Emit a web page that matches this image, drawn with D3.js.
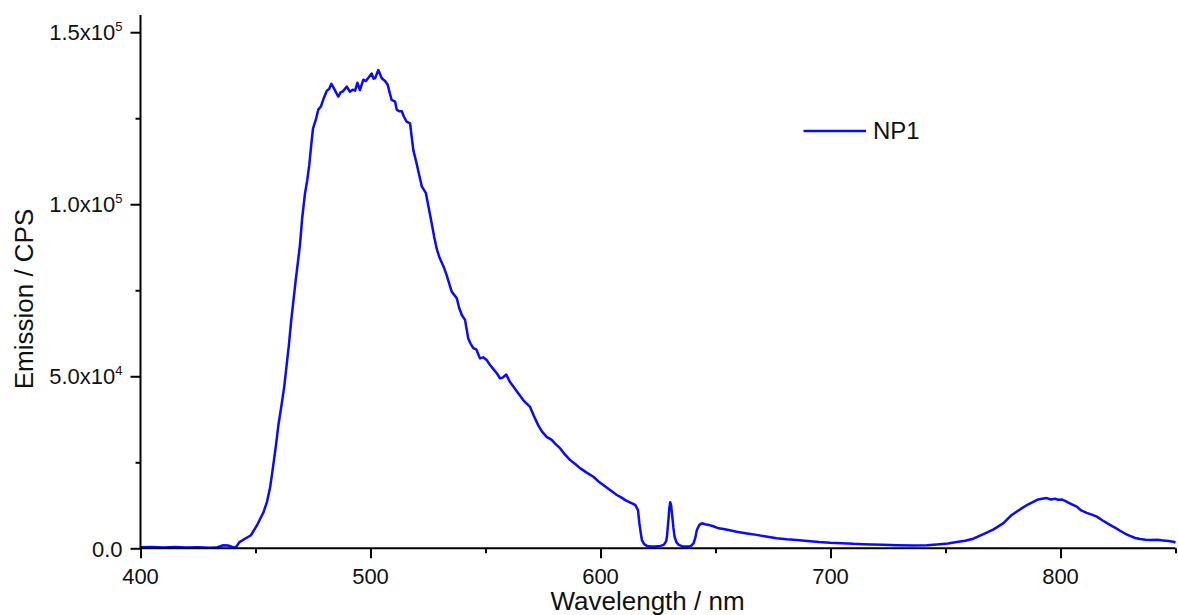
<!DOCTYPE html>
<html>
<head>
<meta charset="utf-8">
<script src="https://cdn.jsdelivr.net/npm/d3@7"></script>
<style>
  html, body { margin: 0; padding: 0; background: #fff; }
  svg { display: block; font-family: "Liberation Sans", Arial, sans-serif; }
</style>
</head>
<body>
<svg id="chart" width="1178" height="615"></svg>
<script>
// ---- Data ----
const seriesName = "NP1";
const wavelength = [
  400,405,410,415,420,425,430,433,436,438,440,441.5,443,446,448,450.5,452,453.5,455,456.3,
  457.5,458.8,460,461.4,462.5,463.5,464.5,465.5,466.5,467.5,468.5,469.3,470.3,471.5,472.5,473.4,474.2,475,476.2,477.3,
  478.5,479.5,481,482,483,484,485,486,487,488,489.7,491,492.3,493.3,494.3,495.4,496.9,498,499,500.5,
  501.3,502,503.4,504.9,506.3,507.5,508.3,509.2,510.7,511.4,512.5,513.6,514.5,515.7,517.2,518.6,520,521,522.3,524.1,
  525.3,526.6,527.7,528.8,530,531.7,533.1,534.2,535.3,537.5,538.5,539.7,541.1,542.5,543.5,544.7,546,547.6,549,550.5,
  552,553.5,555,556.3,557.5,559,560.5,562.1,564,566.4,568,569.3,571,572.9,574.5,576.6,578.8,580.5,582.4,584.5,
  586.7,589,591.1,594,596.9,599,601.2,604,607.1,609,610.8,613,615.1,616.3,616.9,617.5,618,619,620.2,622,
  623.8,626,627.5,628.5,628.9,629.5,629.9,630.3,630.7,631.1,631.7,632.2,633,634,636,638.3,639.5,640.5,641.2,641.9,
  643,644.1,645.5,647,649,651.4,653.5,655.7,659.2,663,667.9,672,676.6,681,685.3,690,695,699.8,705,710,
  714.2,718,722.9,729,736,742,747.6,751,754.9,758.5,762.1,766.5,770.9,775.2,778.8,782.4,786,790.3,792,794,
  795.8,797.6,799,800.5,802,803.4,805.2,807.1,809,811.4,813.6,815.8,818.5,821.5,823.7,825.9,828,830.2,832.5,834.6,
  837,839,842,844.7,847,849.1,850
];
const emission = [
  300,400,250,350,200,300,150,200,900,800,400,300,1800,3000,3800,6500,8500,10500,13500,17500,
  23000,29500,36000,42000,47000,53000,59000,66000,72000,78000,83500,88000,96000,103000,107000,111500,117000,122000,124500,127500,
  128500,130500,133000,133500,135000,133800,132500,131300,132500,132800,134200,132700,133300,133000,135300,133200,136200,135800,136700,138000,
  136500,136600,139000,136600,135800,134700,132500,130300,129800,127500,127000,127000,125500,124000,123500,115800,112000,109000,105200,103200,
  99000,94500,90500,87000,84500,82000,79400,77000,74600,72700,70000,67800,66400,61000,59500,58200,57800,55200,55500,54700,
  53300,52000,50800,49400,49600,50500,48500,47000,45300,43100,42000,41200,38500,35800,34000,32400,31500,30300,29100,27300,
  25700,24500,23300,22000,20800,19500,18400,17000,15500,14800,14000,13300,12600,11100,7300,4500,2400,1200,700,500,
  500,700,1000,2000,3400,8000,11500,13400,12500,10000,6000,3400,1800,1000,500,500,800,1500,3000,5300,
  6800,7300,7000,6800,6400,5800,5600,5300,4800,4400,3900,3400,2900,2600,2400,2100,1800,1600,1500,1300,
  1200,1100,1000,900,800,900,1200,1400,1800,2200,2800,4100,5500,7300,9700,11300,12800,14200,14400,14600,
  14200,14400,14100,14200,13800,13300,12700,12100,11000,10300,9800,9200,8000,6800,6000,5100,4300,3600,3000,2700,
  2500,2400,2500,2300,2100,1900,1700
];
const xMajorTicks = [400, 500, 600, 700, 800];
const xMinorTicks = [450, 550, 650, 750, 850];
const yMajorTicks = [0, 50000, 100000, 150000];
const yMinorTicks = [25000, 75000, 125000];
const yTickMantissa = ["0.0", "5.0", "1.0", "1.5"];
const yTickExponent = [null, "4", "5", "5"];
const xTitle = "Wavelength / nm";
const yTitle = "Emission / CPS";

// ---- Layout ----
const svg = d3.select("#chart");
const mLeft = 140.5, mRight = 1175.5, mTop = 15, mBottom = 548.3;
const x = d3.scaleLinear().domain([400, 850]).range([mLeft, mRight]);
const y = d3.scaleLinear().domain([0, 155000]).range([mBottom, mTop]);
const font = '"Liberation Sans", Arial, sans-serif';

// ---- Series line ----
const pts = wavelength.map((w, i) => [w, emission[i]]);
svg.append("path")
  .datum(pts)
  .attr("fill", "none")
  .attr("stroke", "#0a0aff")
  .attr("stroke-width", 2.5)
  .attr("stroke-linejoin", "round")
  .attr("d", d3.line().x(d => x(d[0])).y(d => y(d[1])));

// ---- X axis ----
const gx = svg.append("g").attr("transform", `translate(0,${mBottom})`);
gx.call(d3.axisBottom(x).tickValues(xMajorTicks).tickSize(10).tickSizeOuter(0).tickFormat(""));
gx.select(".domain").attr("stroke-width", 2).attr("d", `M${mLeft - 1},0H${mRight}`);
gx.selectAll(".tick line").attr("stroke-width", 2);
const gxm = svg.append("g").attr("transform", `translate(0,${mBottom})`);
gxm.call(d3.axisBottom(x).tickValues(xMinorTicks).tickSize(5).tickSizeOuter(0).tickFormat(""));
gxm.select(".domain").remove();
gxm.selectAll(".tick line").attr("stroke-width", 2);
svg.append("g").selectAll("text")
  .data(xMajorTicks).join("text")
  .attr("x", d => x(d)).attr("y", 583.5)
  .attr("text-anchor", "middle")
  .attr("font-family", font).attr("font-size", 22).attr("fill", "#111")
  .text(d => d);

// ---- Y axis ----
const gy = svg.append("g").attr("transform", `translate(${mLeft},0)`);
gy.call(d3.axisLeft(y).tickValues(yMajorTicks).tickSize(10).tickSizeOuter(0).tickFormat(""));
gy.select(".domain").attr("stroke-width", 2).attr("d", `M0,${mTop}V${mBottom + 1}`);
gy.selectAll(".tick line").attr("stroke-width", 2);
const gym = svg.append("g").attr("transform", `translate(${mLeft},0)`);
gym.call(d3.axisLeft(y).tickValues(yMinorTicks).tickSize(5).tickSizeOuter(0).tickFormat(""));
gym.select(".domain").remove();
gym.selectAll(".tick line").attr("stroke-width", 2);

const ylab = svg.append("g").selectAll("text")
  .data(yMajorTicks).join("text")
  .attr("x", 122.5).attr("y", d => y(d) + 8.2)
  .attr("text-anchor", "end")
  .attr("font-family", font).attr("font-size", 22).attr("fill", "#111");
ylab.each(function(d, i) {
  const t = d3.select(this);
  if (yTickExponent[i] === null) {
    t.text(yTickMantissa[i]);
  } else {
    t.append("tspan").text(yTickMantissa[i] + "x10");
    t.append("tspan").attr("dy", -9).attr("font-size", 13).text(yTickExponent[i]);
  }
});

// ---- Axis titles ----
svg.append("text")
  .attr("x", 647.5).attr("y", 610.3)
  .attr("text-anchor", "middle")
  .attr("font-family", font).attr("font-size", 26).attr("fill", "#111")
  .text(xTitle);
svg.append("text")
  .attr("transform", `translate(33,299) rotate(-90)`)
  .attr("text-anchor", "middle")
  .attr("font-family", font).attr("font-size", 26).attr("fill", "#111")
  .text(yTitle);

// ---- Legend ----
svg.append("line")
  .attr("x1", 803.5).attr("x2", 866).attr("y1", 131).attr("y2", 131)
  .attr("stroke", "#0a0aff").attr("stroke-width", 2.5);
svg.append("text")
  .attr("x", 873).attr("y", 138.5)
  .attr("font-family", font).attr("font-size", 24).attr("fill", "#111")
  .text(seriesName);
</script>
</body>
</html>
